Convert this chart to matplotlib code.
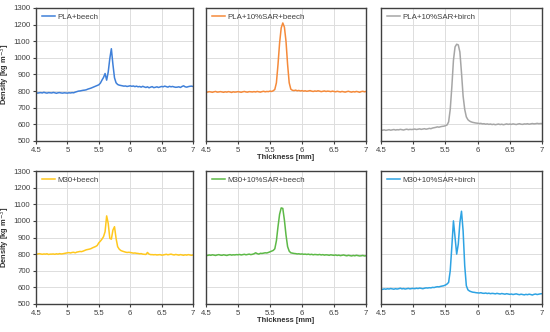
import numpy as np
import matplotlib
matplotlib.use("Agg")
import matplotlib.pyplot as plt

plt.rcParams['font.family'] = ['Liberation Sans', 'DejaVu Sans']

# Thickness sampling grid [mm]: 4.5 .. 7.0 in 0.025 mm steps (101 points)
thickness = np.round(np.linspace(4.5, 7.0, 101), 3)

labels = ["PLA+beech", "PLA+10%SAR+beech", "PLA+10%SAR+birch",
          "M30+beech", "M30+10%SAR+beech", "M30+10%SAR+birch"]
colors = ["#3F80D9", "#F58A3A", "#A6A6A6", "#FFC81E", "#5DB947", "#2EA3E3"]

pla_beech = [
    792, 788, 790, 791, 789, 793, 790, 788, 791, 790,
    789, 792, 790, 787, 790, 791, 789, 788, 790, 789,
    788, 790, 789, 791, 790, 794, 797, 800, 801, 803,
    805, 806, 808, 812, 815, 818, 822, 826, 830, 834,
    838, 848, 866, 882, 906, 866, 915, 995, 1055, 960,
    880, 850, 840, 836, 834, 832, 830, 831, 828, 830,
    832, 829, 831, 827, 830, 826, 828, 824, 829, 825,
    822, 826, 820, 824, 827, 821, 823, 826, 822, 825,
    828, 826, 830, 827, 824, 829, 826, 828, 825, 823,
    824, 826, 822, 828, 832, 826, 824, 827, 829, 830,
    828]

pla_sar_beech = [
    796, 794, 797, 795, 793, 796, 798, 794, 795, 797,
    795, 793, 796, 794, 797, 795, 792, 796, 794, 795,
    797, 795, 793, 796, 798, 795, 794, 797, 796, 795,
    797, 795, 798, 796, 794, 797, 799, 796, 798, 797,
    800, 798, 802, 810, 850, 960, 1090, 1180, 1210, 1185,
    1100, 960, 850, 812, 805, 803, 806, 802, 804, 801,
    803, 800, 802, 799, 801, 803, 800, 798, 801, 799,
    802, 800, 797, 799, 801, 798, 800, 799, 797, 800,
    798, 796, 799, 797, 795, 798, 796, 794, 797, 799,
    796, 794, 797, 795, 798, 796, 793, 797, 799, 796,
    798]

pla_sar_birch = [
    566, 565, 567, 564, 566, 568, 565, 567, 569, 566,
    568, 567, 570, 568, 566, 569, 571, 568, 570, 569,
    570, 572, 569, 571, 573, 570, 572, 574, 571, 573,
    576, 574, 578, 580, 582, 585, 583, 586, 588, 589,
    592, 596, 615, 690, 826, 986, 1066, 1082, 1078, 1035,
    910, 770, 690, 645, 628, 620, 615, 612, 610, 608,
    607, 605, 606, 603, 604, 601, 603, 600, 602, 599,
    601, 598, 600, 602, 599, 601, 598, 600, 603, 600,
    602, 600, 603, 601, 599, 602, 604, 601, 600, 603,
    602, 604, 601, 603, 605, 603, 604, 606, 604, 605,
    605]

m30_beech = [
    802, 800, 803, 801, 799, 801, 800, 802, 798, 800,
    800, 801, 799, 802, 800, 803, 801, 802, 804, 806,
    808, 809, 807, 810, 811, 808, 812, 814, 816, 815,
    818, 822, 826, 828, 830, 833, 838, 842, 846, 852,
    868, 878, 890, 905, 935, 1030, 985, 895, 890, 945,
    965, 895, 845, 830, 822, 818, 815, 812, 810, 811,
    810, 808, 806, 807, 805, 804, 802, 803, 800, 799,
    798, 810, 800, 797, 797, 796, 797, 795, 796, 797,
    794, 795, 797, 799, 796, 798, 800, 797, 795, 798,
    796, 794, 797, 795, 793, 796, 794, 797, 795, 793,
    795]

m30_sar_beech = [
    794, 792, 795, 793, 796, 794, 792, 795, 797, 794,
    793, 796, 794, 792, 795, 797, 794, 796, 795, 797,
    796, 798, 795, 797, 799, 796, 798, 800, 797, 799,
    802, 808, 803, 800, 805, 804, 806, 808, 807, 810,
    814, 818, 822, 832, 880, 965, 1040, 1078, 1075, 1005,
    915, 845, 818, 808, 806, 804, 803, 801, 802, 800,
    801, 799, 800, 798, 800, 797, 799, 796, 798, 797,
    796, 798, 795, 797, 794, 796, 795, 793, 796, 794,
    793, 795, 792, 794, 791, 793, 795, 792, 790, 793,
    791, 789, 792, 790, 793, 791, 789, 790, 792, 789,
    790]

m30_sar_birch = [
    590, 588, 591, 589, 592, 590, 593, 591, 589, 592,
    590, 592, 595, 591, 593, 590, 592, 594, 591, 593,
    594, 592, 595, 593, 596, 594, 592, 595, 597, 596,
    598, 597, 600, 599, 602, 604, 603, 606, 608, 610,
    614, 620, 630, 700, 846, 1000, 900, 800, 860, 990,
    1058, 940, 730, 610, 585, 578, 574, 571, 570, 568,
    567, 566, 568, 565, 564, 566, 563, 565, 562, 564,
    563, 561, 564, 562, 560, 563, 561, 559, 562, 560,
    558, 560, 557, 559, 561, 558, 556, 559, 557, 555,
    558, 556, 559, 557, 554, 558, 560, 557, 559, 561,
    562]

series = [pla_beech, pla_sar_beech, pla_sar_birch,
          m30_beech, m30_sar_beech, m30_sar_birch]

x_ticks = [4.5, 5, 5.5, 6, 6.5, 7]
x_tick_labels = ["4.5", "5", "5.5", "6", "6.5", "7"]
y_ticks = [500, 600, 700, 800, 900, 1000, 1100, 1200, 1300]

fig = plt.figure(figsize=(5.5, 3.32), dpi=100)
W, H = 550.0, 332.0
cols = [(36, 193), (206, 366), (381, 542)]
rows = [(8, 141), (171, 304)]

spine_col = "#404040"
for i, (lab, col, ys) in enumerate(zip(labels, colors, series)):
    r, c = divmod(i, 3)
    x0, x1 = cols[c]
    y0, y1 = rows[r]
    ax = fig.add_axes([x0 / W, 1 - y1 / H, (x1 - x0) / W, (y1 - y0) / H])
    ax.plot(thickness, ys, color=col, lw=1.1, label=lab)
    ax.set_xlim(4.5, 7)
    ax.set_ylim(500, 1300)
    ax.set_xticks(x_ticks)
    ax.set_xticklabels(x_tick_labels)
    ax.set_yticks(y_ticks)
    ax.grid(True, color="#DDDDDD", lw=0.7)
    ax.set_axisbelow(True)
    for s in ax.spines.values():
        s.set_color(spine_col)
        s.set_linewidth(1.0)
    ax.tick_params(axis="both", labelsize=5.6, colors="#404040", length=2.5,
                   width=0.8, pad=1.5, labelcolor="#404040")
    if c == 0:
        ax.set_ylabel("Density [kg m$^{-3}$]", fontsize=5.4, fontweight="bold",
                      color="#303030")
        ax.yaxis.set_label_coords((12.5 - x0) / (x1 - x0), 0.5)
    else:
        ax.tick_params(axis="y", left=False, labelleft=False)
    if c == 1:
        ax.set_xlabel("Thickness [mm]", fontsize=5.4, fontweight="bold",
                      color="#303030", labelpad=0.5)
    leg = ax.legend(loc="upper left", frameon=False, fontsize=5.7,
                    handlelength=1.7, handletextpad=0.3, borderaxespad=0.4,
                    borderpad=0.3)
    for t in leg.get_texts():
        t.set_color("#404040")

fig.savefig("out.png", dpi=100)
